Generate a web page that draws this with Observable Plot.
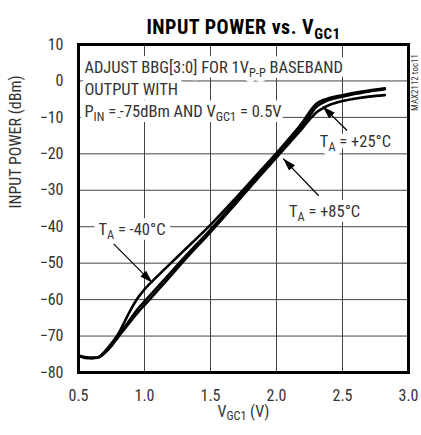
<!DOCTYPE html>
<html><head><meta charset="utf-8">
<script src="https://cdn.jsdelivr.net/npm/d3@7"></script>
<script src="https://cdn.jsdelivr.net/npm/@observablehq/plot@0.6"></script>
<style>
body{margin:0;background:#fff;}
svg{font-family:"Roboto Condensed","DejaVu Sans Condensed",sans-serif;}
</style></head><body>
<script>
// V_GC1 (V)
const vgc = [0.5, 0.55, 0.6, 0.65, 0.7, 0.75, 0.8, 0.85, 0.9, 0.95, 1.0, 1.1, 1.2, 1.3, 1.5, 1.7, 1.9, 2.0, 2.1, 2.2, 2.25, 2.3, 2.35, 2.4, 2.5, 2.6, 2.7, 2.82];
// input power (dBm)
const pinM40 = [-75.3, -75.8, -76.0, -75.8, -74.2, -72.0, -69.5, -66.0, -62.5, -59.5, -57.2, -53.5, -50.0, -46.5, -39.5, -31.8, -23.8, -19.8, -15.6, -11.2, -8.5, -6.3, -5.3, -4.7, -3.9, -3.2, -2.6, -2.0];
const pin25  = [-75.3, -75.8, -76.0, -75.8, -74.5, -72.5, -70.0, -67.5, -65.0, -62.5, -60.5, -56.5, -52.5, -48.5, -40.8, -32.6, -24.4, -20.3, -16.2, -12.0, -9.6, -7.2, -6.0, -5.2, -4.3, -3.5, -2.9, -2.3];
const pin85  = [-75.5, -76.0, -76.1, -75.9, -74.6, -72.7, -70.3, -68.0, -65.7, -63.5, -61.5, -57.5, -53.4, -49.3, -41.5, -33.3, -25.0, -21.0, -16.9, -12.8, -10.6, -8.7, -7.5, -6.6, -5.5, -4.8, -4.3, -3.9];
const seriesNames = ["-40", "+25", "+85"];
const xTicks = [0.5, 1.0, 1.5, 2.0, 2.5, 3.0];
const yTicks = [10, 0, -10, -20, -30, -40, -50, -60, -70, -80];

const noteLines = [
  {x: 0.545, y: 3.7, t: "ADJUST BBG[3:0] FOR 1V_{P-P} BASEBAND"},
  {x: 0.545, y: -2.4, t: "OUTPUT WITH"},
  {x: 0.545, y: -8.5, t: "P_{IN} = -75dBm AND V_{GC1} = 0.5V"}
];
const tempLabels = [
  {x: 2.598, y: -16.6, t: "T_{A} = +25°C"},
  {x: 2.364, y: -35.9, t: "T_{A} = +85°C"},
  {x: 0.905, y: -40.8, t: "T_{A} = -40°C"}
];
const arrows = [
  {x1: 2.535, y1: -13.6, x2: 2.35, y2: -7.0},
  {x1: 2.32, y1: -31.5, x2: 2.05, y2: -21.3},
  {x1: 0.766, y1: -44.7, x2: 1.06, y2: -55.4}
];

const rows = [];
[pinM40, pin25, pin85].forEach((arr, k) => arr.forEach((v, i) => rows.push({s: seriesNames[k], x: vgc[i], y: v})));

const txt = "#333";
const fs = 16.5;
const halo = {fill: "white", stroke: "white", strokeWidth: 10, fontSize: fs};
const chart = Plot.plot({
  width: 421, height: 435,
  marginLeft: 78, marginRight: 13, marginTop: 44, marginBottom: 63,
  style: {fontSize: "16px", color: txt, background: "white"},
  x: {domain: [0.5, 3.0]},
  y: {domain: [-80, 10]},
  marks: [
    Plot.gridX(xTicks.slice(1, -1), {stroke: "#444", strokeOpacity: 1, strokeWidth: 1}),
    Plot.gridY(yTicks.slice(1, -1), {stroke: "#444", strokeOpacity: 1, strokeWidth: 1}),
    // white backgrounds of the annotations
    Plot.text(noteLines, {x: "x", y: "y", text: "t", textAnchor: "start", ...halo}),
    Plot.text(tempLabels, {x: "x", y: "y", text: "t", ...halo}),
    Plot.text(noteLines, {x: "x", y: "y", text: "t", textAnchor: "start", fill: txt, fontSize: fs}),
    Plot.text(tempLabels, {x: "x", y: "y", text: "t", fill: txt, fontSize: fs}),
    Plot.line(rows, {x: "x", y: "y", z: "s", stroke: "black", strokeWidth: 2.6, curve: "monotone-x"}),
    Plot.link(arrows, {x1: "x1", y1: "y1", x2: "x2", y2: "y2", stroke: "black", strokeWidth: 1.2}),
    Plot.frame({stroke: "black", strokeWidth: 3}),
    Plot.axisX(xTicks, {tickSize: 0, tickPadding: 17, tickFormat: d3.format(".1f"), label: null, fontSize: 16, fill: txt}),
    Plot.axisY(yTicks, {tickSize: 0, tickPadding: 15, tickFormat: d3.format("d"), label: null, fontSize: 16, fill: txt}),
    Plot.text(["V_{GC1} (V)"], {frameAnchor: "bottom", dy: 44, text: d => d, fontSize: 16, fill: txt}),
    Plot.text(["INPUT POWER (dBm)"], {frameAnchor: "left", dx: -63, rotate: -90, text: d => d, fontSize: 16, fill: txt}),
    Plot.text(["INPUT POWER vs. V_{GC1}"], {frameAnchor: "top", dy: -25, text: d => d, fontSize: 20, fontWeight: "bold", fill: "black"}),
    Plot.text(["MAX2112 toc11"], {frameAnchor: "top-right", dx: 7, dy: 38, textAnchor: "middle", lineAnchor: "middle", rotate: -90, text: d => d, fontSize: 9, fill: txt})
  ]
});
document.body.appendChild(chart);

const svg = d3.select(chart);
// title letter spacing
svg.selectAll("text").filter(function() { return this.textContent.startsWith("INPUT POWER vs."); })
  .attr("letter-spacing", "0.5px");
// subscripts
svg.selectAll("text").each(function() {
  const el = this;
  const s = el.textContent;
  if (!s.includes("_{")) return;
  const parts = s.split(/_\{([^}]*)\}/);
  el.textContent = "";
  let shifted = false;
  parts.forEach((p, i) => {
    if (p === "" && i % 2 === 0) return;
    const ts = document.createElementNS("http://www.w3.org/2000/svg", "tspan");
    ts.textContent = p;
    if (i % 2 === 1) {
      ts.setAttribute("font-size", "0.75em");
      ts.setAttribute("dy", "0.32em");
      shifted = true;
    } else if (shifted) {
      ts.setAttribute("dy", "-0.24em");
      shifted = false;
    }
    el.appendChild(ts);
  });
});
// filled arrowheads
const defs = svg.insert("defs", ":first-child");
defs.append("marker").attr("id", "ah").attr("viewBox", "0 0 13 8")
  .attr("refX", 13).attr("refY", 4).attr("markerWidth", 13).attr("markerHeight", 8)
  .attr("markerUnits", "userSpaceOnUse").attr("orient", "auto")
  .append("path").attr("d", "M0,0L13,4L0,8Z").attr("fill", "black");
svg.selectAll('g[aria-label="link"] path').attr("marker-end", "url(#ah)");
</script>
</body></html>
